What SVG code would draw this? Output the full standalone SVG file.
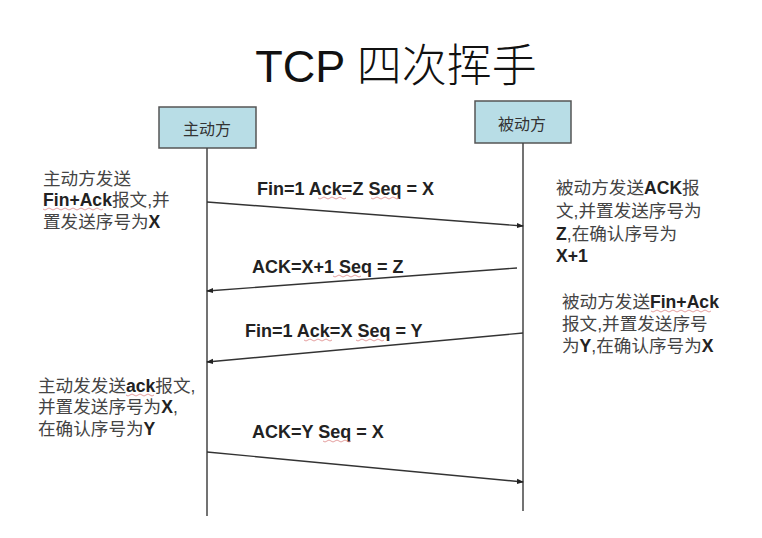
<svg xmlns="http://www.w3.org/2000/svg" width="762" height="538" viewBox="0 0 762 538">
<style>
.box{fill:#b8dde6;stroke:#555;stroke-width:1.5}
.life{stroke:#444;stroke-width:1.5;fill:none}
.msg{stroke:#333;stroke-width:1.4;fill:none;marker-end:url(#ah)}
.lbl{font-family:"Liberation Sans","Noto Sans CJK SC",sans-serif;font-size:18px;font-weight:bold;fill:#222}
.note{font-family:"Liberation Sans","Noto Sans CJK SC",sans-serif;font-size:17.6px;fill:#444}
.b{font-weight:bold;fill:#222}
.nm{font-family:"Noto Sans CJK SC",sans-serif;font-size:16px;fill:#333;text-anchor:middle}
.sq{stroke:#d88;stroke-width:1;fill:none;opacity:0.8}
</style>
<defs>
<marker id="ah" viewBox="0 0 8 8" refX="7" refY="4" markerWidth="7" markerHeight="7" orient="auto" markerUnits="userSpaceOnUse">
<path d="M0,1 L8,4 L0,7 z" fill="#222"/>
</marker>
</defs>
<rect width="762" height="538" fill="#fff"/>
<text x="396" y="82" text-anchor="middle" font-size="45" fill="#111"><tspan font-family="Liberation Sans,sans-serif">TCP </tspan><tspan font-family="Noto Sans CJK SC,sans-serif" font-weight="300">四次挥手</tspan></text>

<g id="client">
<rect class="box" x="159" y="107" width="97" height="41"/>
<text class="nm" x="207" y="135">主动方</text>
</g>
<g id="server">
<rect class="box" x="475" y="101" width="96" height="42"/>
<text class="nm" x="522" y="130">被动方</text>
</g>

<g id="connectors">
<line class="life" x1="207" y1="148" x2="207" y2="516"/>
<line class="life" x1="523" y1="143" x2="523" y2="511"/>
<line class="msg" x1="207" y1="202" x2="523" y2="226"/>
<line class="msg" x1="517" y1="268" x2="207" y2="291"/>
<line class="msg" x1="523" y1="333" x2="207" y2="362"/>
<line class="msg" x1="207" y1="452" x2="523" y2="482"/>
</g>

<g id="labels">
<text class="lbl" x="257" y="195">Fin=1 Ack=Z Seq = X</text>
<text class="lbl" x="252" y="273">ACK=X+1 Seq = Z</text>
<text class="lbl" x="245" y="337">Fin=1 Ack=X Seq = Y</text>
<text class="lbl" x="252" y="438">ACK=Y Seq = X</text>
<path class="sq" d="M318,198 q2,2 4,0 t4,0 t4,0 t4,0 t4,0 t4,0 t4,0 M371,198 q2,2 4,0 t4,0 t4,0 t4,0 t4,0 t4,0 t4,0"/>
<path class="sq" d="M333,276 q2,2 4,0 t4,0 t4,0 t4,0 t4,0 t4,0 t4,0"/>
<path class="sq" d="M304,340 q2,2 4,0 t4,0 t4,0 t4,0 t4,0 t4,0 t4,0 M356,340 q2,2 4,0 t4,0 t4,0 t4,0 t4,0 t4,0 t4,0"/>
<path class="sq" d="M323,441 q2,2 4,0 t4,0 t4,0 t4,0 t4,0 t4,0 t4,0"/>
</g>

<g id="note1">
<text class="note" x="43" y="185">主动方发送</text>
<text class="note" x="43" y="206"><tspan class="b">Fin+Ack</tspan>报文,并</text>
<text class="note" x="43" y="228">置发送序号为<tspan class="b">X</tspan></text>
<path class="sq" d="M43,209 q2,2 4,0 t4,0 t4,0 t4,0 t4,0 t4,0 t4,0 t4,0 t4,0 t4,0 t4,0 t4,0 t4,0 t4,0 t4,0"/>
</g>
<g id="note2">
<text class="note" x="556" y="194">被动方发送<tspan class="b">ACK</tspan>报</text>
<text class="note" x="556" y="217">文,并置发送序号为</text>
<text class="note" x="556" y="240"><tspan class="b">Z</tspan>,在确认序号为</text>
<text class="note" x="556" y="262"><tspan class="b">X+1</tspan></text>
</g>
<g id="note3">
<text class="note" x="562" y="308">被动方发送<tspan class="b">Fin+Ack</tspan></text>
<text class="note" x="562" y="330">报文,并置发送序号</text>
<text class="note" x="562" y="352">为<tspan class="b">Y</tspan>,在确认序号为<tspan class="b">X</tspan></text>
<path class="sq" d="M651,311 q2,2 4,0 t4,0 t4,0 t4,0 t4,0 t4,0 t4,0 t4,0 t4,0 t4,0 t4,0 t4,0 t4,0 t4,0 t4,0"/>
</g>
<g id="note4">
<text class="note" x="38" y="392">主动发发送<tspan class="b">ack</tspan>报文,</text>
<text class="note" x="38" y="413">并置发送序号为<tspan class="b">X</tspan>,</text>
<text class="note" x="38" y="435">在确认序号为<tspan class="b">Y</tspan></text>
<path class="sq" d="M126,395 q2,2 4,0 t4,0 t4,0 t4,0 t4,0 t4,0 t4,0"/>
</g>
</svg>
